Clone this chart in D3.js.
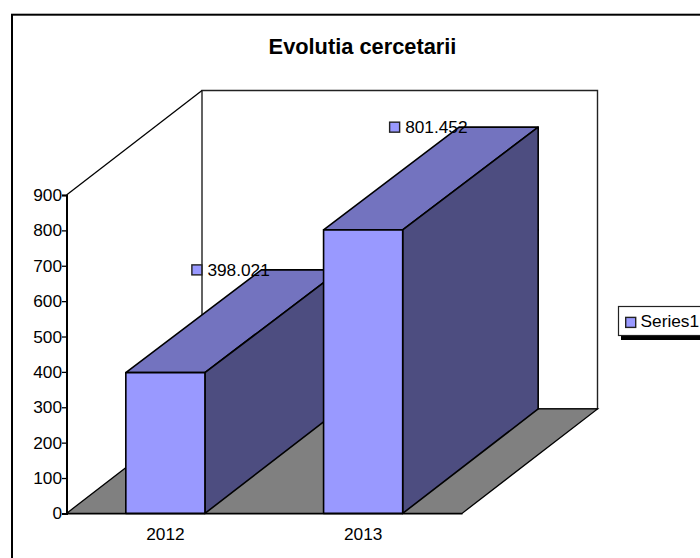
<!DOCTYPE html>
<html>
<head>
<meta charset="utf-8">
<script src="https://cdn.jsdelivr.net/npm/d3@7"></script>
<style>
	html, body { margin: 0; padding: 0; background: #fff; overflow: hidden; }
	svg { display: block; }
	text { font-family: "Liberation Sans", Arial, sans-serif; fill: #000; }
</style>
</head>
<body>
<script>
(function () {
	const categories = ["2012", "2013"]
	const values = [398.021, 801.452]
	const labels = ["398.021", "801.452"]
	const ticks = [0, 100, 200, 300, 400, 500, 600, 700, 800, 900]
	const seriesName = "Series1"
	const title = "Evolutia cercetarii"

	const width = 700, height = 558
	const depthX = 135.5, depthY = 104.5
	const barTopDepthY = 102.7  // верх столбца смещён чуть меньше, чем пол
	const fontSize = "17.3px"

	const svg = d3.select("body").append("svg")
		.attr("width", width)
		.attr("height", height)

	// Рамка всей диаграммы, правый и нижний края за пределами кадра
	svg.append("rect")
		.attr("x", 12).attr("y", 14.7)
		.attr("width", 760).attr("height", 600)
		.attr("fill", "#fff").attr("stroke", "#000").attr("stroke-width", 2)

	svg.append("text")
		.attr("x", 362.5).attr("y", 53.5)
		.attr("text-anchor", "middle")
		.style("font-size", "21.8px").style("font-weight", "bold")
		.text(title)

	const y = d3.scaleLinear().domain([0, 900]).range([513.4, 195])
	const x = d3.scaleBand().domain(categories).range([66.5, 462])
		.paddingInner(0.6).paddingOuter(0.3)

	const left = x.range()[0], right = x.range()[1]
	const base = y(0), topY = y(900)

	const poly = pts => d3.line()(pts) + "Z"

	// Задняя стенка
	svg.append("path")
		.attr("d", poly([[left + depthX, base - depthY], [left + depthX, topY - depthY],
			[right + depthX, topY - depthY], [right + depthX, base - depthY]]))
		.attr("fill", "#fff").attr("stroke", "#222").attr("stroke-width", 1.4)

	// Боковая стенка
	svg.append("path")
		.attr("d", d3.line()([[left, topY], [left + depthX, topY - depthY]]))
		.attr("fill", "none").attr("stroke", "#000").attr("stroke-width", 1.3)

	// Пол
	svg.append("path")
		.attr("d", poly([[left, base], [left + depthX, base - depthY],
			[right + depthX, base - depthY], [right, base]]))
		.attr("fill", "#808080").attr("stroke", "#000").attr("stroke-width", 1.3)

	const data = categories.map((c, i) => ({ cat: c, value: values[i], label: labels[i] }))

	const bar = svg.selectAll(".bar")
		.data(data)
		.enter().append("g")
		.attr("class", "bar")
		.attr("stroke", "#000")
		.attr("stroke-width", 1.6)
		.attr("stroke-linejoin", "round")

	bar.append("path")
		.attr("fill", "#7373BF")
		.attr("d", d => {
			const x0 = x(d.cat), x1 = x0 + x.bandwidth(), t = y(d.value)
			return poly([[x0, t], [x0 + depthX, t - barTopDepthY], [x1 + depthX, t - barTopDepthY], [x1, t]])
		})

	bar.append("path")
		.attr("fill", "#4D4D80")
		.attr("d", d => {
			const x1 = x(d.cat) + x.bandwidth(), t = y(d.value)
			return poly([[x1, t], [x1 + depthX, t - barTopDepthY], [x1 + depthX, base - depthY], [x1, base]])
		})

	bar.append("rect")
		.attr("fill", "#9999FF")
		.attr("x", d => x(d.cat))
		.attr("y", d => y(d.value))
		.attr("width", x.bandwidth())
		.attr("height", d => base - y(d.value))

	// Оси
	const yAxis = svg.append("g")
		.attr("transform", `translate(${left},0)`)
		.call(d3.axisLeft(y).tickValues(ticks).tickSize(4.5).tickPadding(0).tickFormat(d3.format("d")))
	yAxis.select(".domain").attr("stroke-width", 2)
	yAxis.selectAll("line").attr("stroke-width", 1.3)
	yAxis.selectAll("text").style("font-size", fontSize).style("font-family", "Liberation Sans")

	const xAxis = svg.append("g")
		.attr("transform", `translate(0,${base})`)
		.call(d3.axisBottom(x).tickSize(0).tickPadding(14.3))
	xAxis.select(".domain").attr("stroke-width", 1.3)
	xAxis.selectAll("text").style("font-size", fontSize).style("font-family", "Liberation Sans")

	// Подписи значений
	const label = svg.selectAll(".value-label")
		.data(data)
		.enter().append("g")
		.attr("class", "value-label")
		.attr("transform", d => `translate(${x(d.cat) + x.bandwidth() / 2 + 31.5},${y(d.value) - barTopDepthY})`)

	label.append("rect")
		.attr("x", -5).attr("y", -5)
		.attr("width", 10).attr("height", 10)
		.attr("fill", "#9999FF").attr("stroke", "#222").attr("stroke-width", 1.4)

	label.append("text")
		.attr("x", 10.5).attr("y", 6)
		.style("font-size", fontSize)
		.text(d => d.label)

	// Легенда
	const legend = svg.append("g")
	legend.append("rect")
		.attr("x", 621).attr("y", 310)
		.attr("width", 100).attr("height", 30)
		.attr("fill", "#000")
	legend.append("rect")
		.attr("x", 618.5).attr("y", 306.5)
		.attr("width", 100).attr("height", 29)
		.attr("fill", "#fff").attr("stroke", "#222").attr("stroke-width", 1.2)
	legend.append("rect")
		.attr("x", 625.7).attr("y", 317.4)
		.attr("width", 10).attr("height", 10)
		.attr("fill", "#9999FF").attr("stroke", "#222").attr("stroke-width", 1.4)
	legend.append("text")
		.attr("x", 640.5).attr("y", 326.7)
		.style("font-size", fontSize)
		.text(seriesName)
})()
</script>
</body>
</html>
